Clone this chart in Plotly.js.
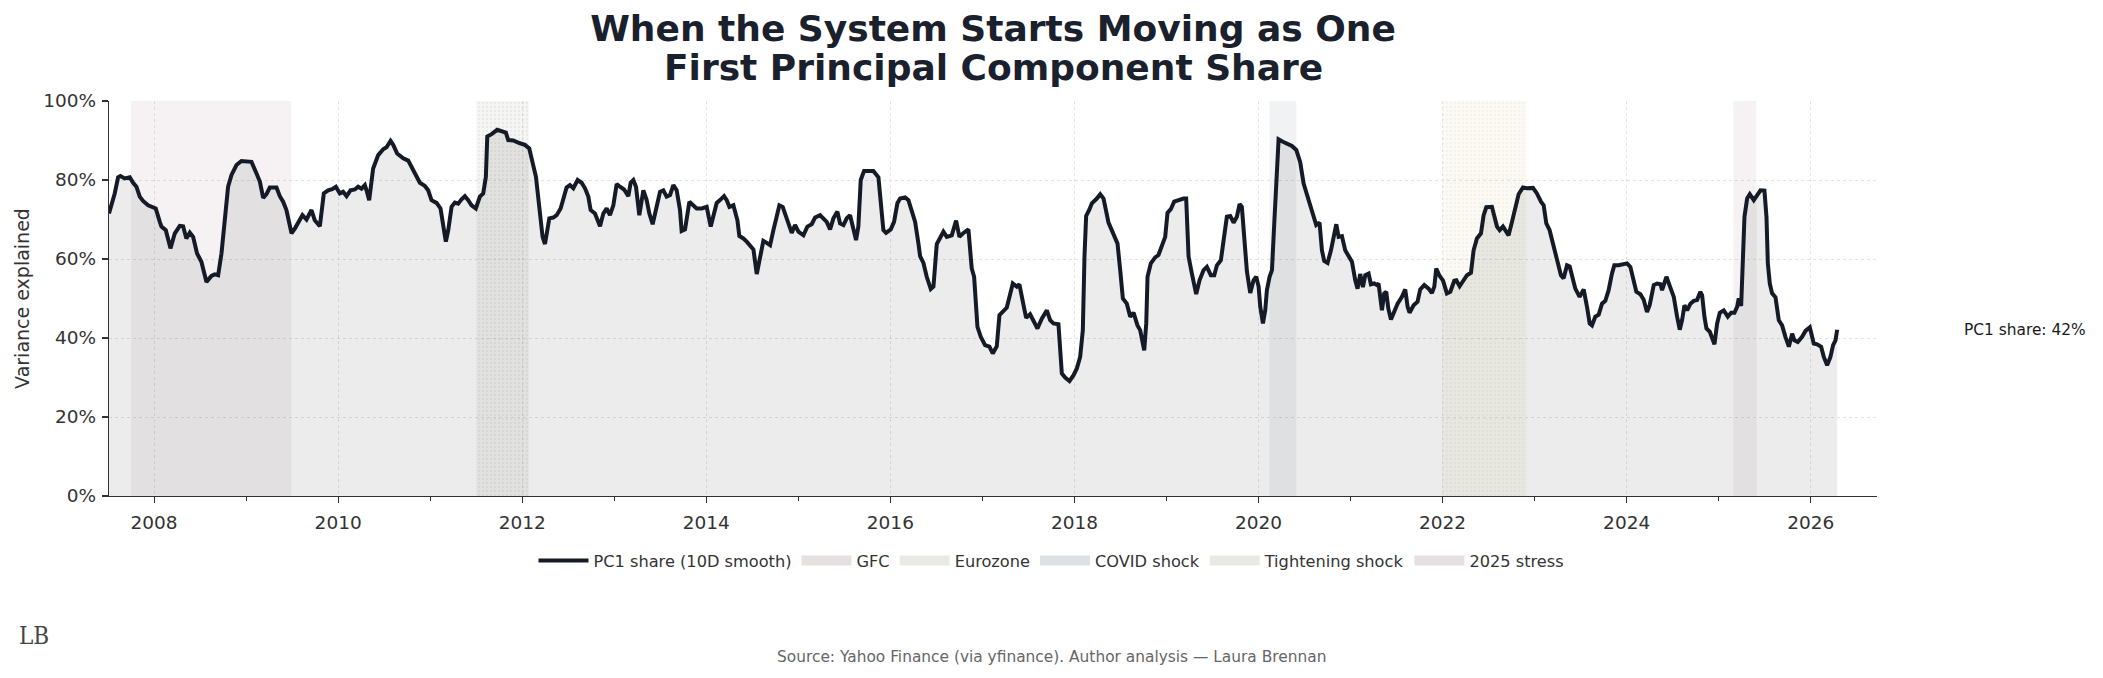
<!DOCTYPE html>
<html>
<head>
<meta charset="utf-8">
<script src="https://cdn.plot.ly/plotly-3.0.1.min.js"></script>
<style>html,body{margin:0;padding:0;background:#fff;}#chart{width:2103px;height:678px;}</style>
</head>
<body>
<div id="chart"></div>
<script>
// ---- data (decimal years, % of variance explained by PC1) ----
const dates = [
2007.51,2007.554,2007.572,2007.609,2007.634,2007.681,2007.736,2007.772,2007.808,2007.844,
2007.880,2007.935,2007.989,2008.018,2008.062,2008.080,2008.127,2008.178,2008.225,2008.279,
2008.315,2008.351,2008.388,2008.424,2008.467,2008.514,2008.569,2008.623,2008.659,2008.696,
2008.732,2008.768,2008.804,2008.841,2008.895,2008.949,2009.022,2009.058,2009.112,2009.149,
2009.185,2009.221,2009.257,2009.330,2009.366,2009.402,2009.438,2009.467,2009.493,2009.529,
2009.576,2009.612,2009.656,2009.710,2009.746,2009.801,2009.844,2009.891,2009.935,2009.975,
2010.018,2010.054,2010.091,2010.134,2010.181,2010.217,2010.254,2010.290,2010.308,2010.337,
2010.380,2010.435,2010.489,2010.525,2010.569,2010.598,2010.641,2010.707,2010.761,2010.815,
2010.851,2010.888,2010.942,2010.978,2011.014,2011.069,2011.112,2011.141,2011.170,2011.196,
2011.232,2011.268,2011.304,2011.341,2011.377,2011.413,2011.449,2011.496,2011.540,2011.576,
2011.605,2011.620,2011.667,2011.728,2011.775,2011.822,2011.848,2011.902,2011.975,
2012.029,2012.076,2012.102,2012.149,2012.185,2012.221,2012.247,2012.272,2012.294,2012.337,
2012.374,2012.417,2012.446,2012.482,2012.518,2012.555,2012.602,2012.645,2012.682,2012.718,
2012.743,2012.790,2012.845,2012.881,2012.917,2012.953,2012.990,2013.026,2013.062,2013.106,
2013.153,2013.178,2013.207,2013.236,2013.272,2013.316,2013.352,2013.381,2013.417,2013.461,
2013.497,2013.533,2013.569,2013.606,2013.642,2013.678,2013.714,2013.732,2013.769,2013.816,
2013.852,2013.895,2013.950,2014.004,2014.048,2014.077,2014.113,2014.149,2014.193,2014.222,
2014.251,2014.294,2014.338,2014.359,2014.403,2014.439,2014.468,2014.512,2014.548,2014.584,
2014.620,2014.657,2014.693,2014.729,2014.765,2014.794,2014.830,2014.856,2014.892,2014.928,
2014.964,2015.001,2015.055,2015.098,2015.145,2015.182,2015.236,2015.272,2015.308,2015.345,
2015.381,2015.424,2015.453,2015.490,2015.526,2015.562,2015.591,2015.627,2015.652,2015.678,
2015.714,2015.761,2015.815,2015.870,2015.895,2015.924,2015.953,2016.004,2016.040,2016.076,
2016.106,2016.160,2016.196,2016.232,2016.269,2016.305,2016.323,2016.359,2016.395,2016.439,
2016.468,2016.504,2016.540,2016.576,2016.613,2016.667,2016.714,2016.750,2016.794,2016.848,
2016.884,2016.910,2016.946,2016.982,2017.029,2017.076,2017.112,2017.156,2017.185,2017.228,
2017.265,2017.301,2017.330,2017.373,2017.402,2017.439,2017.475,2017.518,2017.555,2017.598,
2017.645,2017.700,2017.736,2017.772,2017.826,2017.863,2017.899,2017.946,2017.990,2018.026,
2018.062,2018.091,2018.109,2018.127,2018.164,2018.189,2018.243,2018.280,2018.316,2018.345,
2018.370,2018.424,2018.468,2018.497,2018.526,2018.569,2018.606,2018.642,2018.685,2018.714,
2018.758,2018.780,2018.794,2018.830,2018.877,2018.913,2018.950,2018.986,2019.011,2019.047,
2019.083,2019.131,2019.185,2019.214,2019.240,2019.276,2019.323,2019.359,2019.403,2019.439,
2019.482,2019.519,2019.548,2019.591,2019.627,2019.656,2019.693,2019.729,2019.765,2019.794,
2019.819,2019.845,2019.874,2019.910,2019.946,2019.975,2020.001,2020.019,2020.048,2020.073,
2020.091,2020.120,2020.146,2020.171,2020.200,2020.218,2020.265,2020.309,2020.363,2020.410,
2020.453,2020.490,2020.526,2020.562,2020.598,2020.627,2020.663,2020.689,2020.714,2020.750,
2020.787,2020.815,2020.845,2020.870,2020.906,2020.942,2020.978,2021.015,2021.051,2021.076,
2021.105,2021.134,2021.160,2021.196,2021.221,2021.257,2021.286,2021.304,2021.341,2021.366,
2021.388,2021.410,2021.439,2021.475,2021.511,2021.558,2021.594,2021.620,2021.641,2021.685,
2021.728,2021.757,2021.801,2021.848,2021.884,2021.910,2021.931,2021.968,2022.004,2022.047,
2022.084,2022.127,2022.149,2022.185,2022.228,2022.265,2022.308,2022.337,2022.373,2022.417,
2022.446,2022.475,2022.536,2022.562,2022.591,2022.620,2022.656,2022.681,2022.717,2022.754,
2022.790,2022.826,2022.873,2022.917,2022.982,2023.025,2023.069,2023.098,2023.127,2023.163,
2023.199,2023.225,2023.261,2023.286,2023.315,2023.352,2023.381,2023.406,2023.442,2023.489,
2023.533,2023.569,2023.598,2023.623,2023.659,2023.696,2023.732,2023.768,2023.804,2023.840,
2023.866,2023.913,2023.949,2024.004,2024.040,2024.076,2024.105,2024.149,2024.185,2024.221,
2024.250,2024.294,2024.330,2024.367,2024.385,2024.432,2024.468,2024.512,2024.548,2024.577,
2024.602,2024.628,2024.657,2024.693,2024.729,2024.765,2024.801,2024.820,2024.845,2024.867,
2024.903,2024.928,2024.954,2024.983,2025.012,2025.055,2025.099,2025.135,2025.171,2025.200,
2025.218,2025.244,2025.265,2025.280,2025.309,2025.338,2025.381,2025.417,2025.454,2025.497,
2025.519,2025.534,2025.555,2025.580,2025.617,2025.653,2025.689,2025.725,2025.762,2025.798,
2025.823,2025.859,2025.906,2025.943,2025.990,2026.033,2026.070,2026.113,2026.142,2026.178,
2026.214,2026.243,2026.269,2026.287
];
const pc1Share = [
71.5,75,76.6,80.7,81,80.4,80.7,79.3,78.3,75.8,
74.7,73.6,73,72.8,69.4,68.2,67.3,62.7,66.5,68.4,
68.3,65.2,66.7,65.6,61.4,59.3,54.2,55.7,56.1,55.9,
61.4,69,78.3,81.3,83.8,84.8,84.8,84.6,81.7,79.6,
75.5,76.4,78.1,78.1,75.9,74.5,72.4,69.4,66.5,67.7,
69.7,71.1,70,72.4,69.8,68.3,76.6,77.4,77.7,78.3,
76.6,77,75.9,77.4,77.6,78.3,77.8,78.7,77.4,74.9,
82.9,86.3,87.8,88.3,89.9,88.9,86.7,85.5,84.9,82.5,
81.3,79.3,78.5,77.4,74.9,74.2,72.8,69,64.4,67.3,
73.2,74.3,74,75.1,75.9,74.9,73.6,72.8,75.8,76.6,
80.8,91,91.6,92.7,92.3,92,90.1,90,89.3,
88.9,88,85.5,80.8,73.2,65.6,63.8,67.3,70.3,70.5,
71.1,72.8,75.6,78.1,78.7,77.9,80,79.3,77.9,75.8,
72.4,71.5,68.3,71.5,72.8,71.1,73.6,79,78.3,77.6,
75.9,79.3,80,78.3,71.1,77.4,74.9,71.5,68.8,73.2,
77,77.4,75.8,76.2,78.7,77.4,72.4,67.1,67.5,74.5,
73.6,72.8,72.8,73.2,68.2,71.1,74.2,74.9,75.9,74.9,
73.2,73.6,69.8,65.8,65.2,64.4,63.5,62.4,56.2,60.6,
64.6,64.1,63.5,67.3,71.1,73.6,73.2,71.5,69.4,66.6,
68.6,66.9,66,68.2,68.8,70.5,71.1,70.3,69.4,67.5,
70.3,72,69,68.6,70.3,71.1,68.6,64.8,68.2,80,
82.3,82.4,82.3,80.7,74.9,67.3,66.6,67.5,69.4,74.1,
75.3,75.6,74.9,72.4,69.4,63.9,60.7,59,55.5,52.4,
53,63.8,65.6,66.9,65.6,66,69.7,65.6,66.6,67.5,
57.6,55.5,42.8,40.3,38.2,37.8,36.1,37.9,45.8,47,
47.7,51.1,53.8,53,53.6,49.2,45.1,46,44.5,42.4,
44.9,47,44.5,43.7,43.5,31,30,29.1,30.6,32.3,
35.2,42,60.6,70.9,72.6,74.1,75.3,76.4,75.3,72.4,
69.2,66.3,63.9,57.2,50,48.7,45.4,46.4,43.2,42,
36.9,43.7,55.5,58.9,60.4,61,63.1,65.6,71.7,72.6,
74.5,74.9,75.3,75.3,60.6,56.3,51.1,54.6,57.2,58,
55.9,55.9,58.4,59.7,65.6,70.7,70.9,69.2,70.7,73.9,
73.2,65.6,56.8,51.4,54.6,55.5,53,47.9,43.7,47,
52.1,55.5,57.2,69,85.9,90.3,89.7,89.3,88.6,87.6,
84.5,79.1,76.4,74.1,71.5,68.6,69.2,62.2,59.5,59,
62.2,65.6,68.8,65.6,65.8,62.2,60.6,59.3,54.6,52.5,
56.2,52.9,55.9,56.3,53.6,53.8,53.4,53.8,47,51.3,
51.7,47.5,44.7,47,48.7,50.4,52.3,47.9,46.4,48.3,
49.2,52.3,53.4,52.5,51.4,53,57.6,55.7,54.6,51.3,
51.7,54.5,54.6,53.1,54.6,55.9,56.5,62.2,65.2,66.5,
71.1,73.1,73.2,71.1,68.2,67.3,68.2,67.3,66,69.4,
73.2,76.4,78.1,77.9,78,76.6,74.5,73.6,69,67.3,
63.9,61.4,58.9,55.9,55.1,58.4,58.1,55.5,52.5,50.4,
52.3,47.9,43.7,43.2,45.4,45.9,48.7,49.4,52.1,56.3,
58.4,58.4,58.7,58.9,58,54.6,51.7,51.1,49.7,46.6,
48.3,53.4,53.8,53.6,52.1,55.5,53.4,50.4,45.4,42.1,
44.5,48.3,47,48.7,49.4,49.6,51.7,50.8,45.4,42.4,
41.6,39.9,38.4,43.7,46.4,47,45.4,46.4,46.4,47.9,
50,48.1,58.9,70.7,75.3,76.4,74.9,76.2,77.4,77.3,
70.7,58.9,53.8,51.3,50.3,44.5,43.2,40.3,37.8,41.1,
39.4,39,40.3,41.8,42.7,38.6,38.4,37.8,35.2,33.1,
35.2,38.2,39.4,42.1
];

const regionNames = ['GFC', 'Eurozone', 'COVID shock', 'Tightening shock', '2025 stress'];
const regionStart = [2007.75, 2011.50, 2020.12, 2022.00, 2025.16];
const regionEnd   = [2009.49, 2012.07, 2020.41, 2022.91, 2025.41];

const xTickVals = [2008, 2010, 2012, 2014, 2016, 2018, 2020, 2022, 2024, 2026];
const yTickVals = [0, 20, 40, 60, 80, 100];
const yTickText = yTickVals.map(v => v + '%');

// ---- styling ----
const FONT = 'DejaVu Sans, Verdana, sans-serif';
const regionFill   = ['rgba(165,125,135,0.10)', 'rgba(160,155,135,0.09)', 'rgba(115,125,145,0.10)', 'rgba(225,195,135,0.09)', 'rgba(165,125,140,0.10)'];
const regionLegend = ['#e6e0e1', '#e9e9e6', '#dee1e4', '#e9e9e4', '#e6e0e2'];
const regionDots   = [false, true, false, true, false];
const dotColor     = ['', 'rgba(120,120,110,0.10)', '', 'rgba(190,180,150,0.10)', ''];

const yMin = yTickVals[0], yMax = yTickVals[yTickVals.length - 1];
const traces = [];
regionNames.forEach((nm, i) => {
  const t = {
    type: 'scatter', mode: 'lines',
    x: [regionStart[i], regionStart[i], regionEnd[i], regionEnd[i]],
    y: [yMin, yMax, yMax, yMin],
    fill: 'toself', fillcolor: regionFill[i],
    line: {width: 0, color: 'rgba(0,0,0,0)'},
    hoverinfo: 'skip', showlegend: false, name: nm
  };
  if (regionDots[i]) t.fillpattern = {shape: '.', fgcolor: dotColor[i], bgcolor: regionFill[i], size: 4, solidity: 0.3};
  traces.push(t);
});

// shaded area under the series
traces.push({
  type: 'scatter', mode: 'lines', x: dates, y: pc1Share,
  line: {width: 0, color: 'rgba(0,0,0,0)'},
  fill: 'tozeroy', fillcolor: 'rgba(30,40,30,0.09)',
  showlegend: false, hoverinfo: 'skip', name: 'area'
});
// the line itself
traces.push({
  type: 'scatter', mode: 'lines', x: dates, y: pc1Share,
  name: 'PC1 share (10D smooth)',
  line: {color: '#141b27', width: 4},
  legendrank: 1
});

// legend swatches for the shaded periods
regionNames.forEach((nm, i) => {
  traces.push({
    type: 'scatter', mode: 'lines', x: [null], y: [null],
    name: nm,
    line: {width: 13, color: regionLegend[i]},
    legendrank: 2 + i, hoverinfo: 'skip'
  });
});

const W = 2103, H = 678;
const M = {l: 109, r: 226, t: 101, b: 182};
const plotH = H - M.t - M.b;
const plotW = W - M.l - M.r;
const py = (pix) => (H - M.b - pix) / plotH;      // pixel row -> paper y
const px = (pix) => (pix - M.l) / plotW;          // pixel col -> paper x

const lastVal = pc1Share[pc1Share.length - 1];

const layout = {
  width: W, height: H,
  margin: M,
  paper_bgcolor: '#ffffff', plot_bgcolor: '#ffffff',
  font: {family: FONT, color: '#333333'},
  title: {
    text: '<b>When the System Starts Moving as One</b>',
    font: {family: FONT, size: 36, color: '#1a202c'},
    x: px((M.l + W - M.r) / 2), xref: 'paper', xanchor: 'center',
    y: 1 - 28 / H, yref: 'container', yanchor: 'middle'
  },
  xaxis: {
    range: [2007.51, 2026.72],
    tickmode: 'array', tickvals: xTickVals, tickformat: 'd',
    ticks: 'outside', ticklen: 6, tickwidth: 1.2, tickcolor: '#333333',
    ticklabelstandoff: 4,
    showline: true, linecolor: '#333333', linewidth: 1.2,
    showgrid: true, gridcolor: '#e4e4e4', griddash: 'dot', gridwidth: 1,
    zeroline: false,
    tickfont: {family: FONT, size: 18.5, color: '#333333'},
    minor: {dtick: 1, tick0: 2007, ticks: 'outside', ticklen: 3.5, tickcolor: '#333333', tickwidth: 1, showgrid: false}
  },
  yaxis: {
    range: [yMin, yMax],
    tickmode: 'array', tickvals: yTickVals, ticktext: yTickText,
    ticks: 'outside', ticklen: 6, tickwidth: 1.2, tickcolor: '#333333',
    ticklabelstandoff: 2,
    showline: true, linecolor: '#333333', linewidth: 1.2,
    showgrid: true, gridcolor: '#e4e4e4', griddash: 'dot', gridwidth: 1,
    zeroline: false,
    tickfont: {family: FONT, size: 18.5, color: '#333333'},
    title: {text: 'Variance explained', font: {family: FONT, size: 19, color: '#333333'}, standoff: 8}
  },
  showlegend: true,
  legend: {
    orientation: 'h', x: px(W / 2), xanchor: 'center', y: py(561), yanchor: 'middle',
    font: {family: FONT, size: 16.2, color: '#333333'}, bgcolor: 'rgba(0,0,0,0)',
    traceorder: 'normal', itemwidth: 50
  },
  annotations: [
    {text: '<b>First Principal Component Share</b>', xref: 'paper', yref: 'paper',
     x: px((M.l + W - M.r) / 2), y: py(67), xanchor: 'center', yanchor: 'middle', showarrow: false,
     font: {family: FONT, size: 36, color: '#1a202c'}},
    {text: 'PC1 share: ' + Math.round(lastVal) + '%', xref: 'paper', yref: 'y',
     x: px(1962), y: lastVal, xanchor: 'left', yanchor: 'middle', showarrow: false,
     font: {family: FONT, size: 15.4, color: '#1a1a1a'}},
    {text: 'Source: Yahoo Finance (via yfinance). Author analysis — Laura Brennan', xref: 'paper', yref: 'paper',
     x: px(W / 2), y: py(657), xanchor: 'center', yanchor: 'middle', showarrow: false,
     font: {family: FONT, size: 15.4, color: '#666666'}},
    {text: 'LB', xref: 'paper', yref: 'paper', x: px(34), y: py(636), xanchor: 'center', yanchor: 'middle', showarrow: false,
     font: {family: 'DejaVu Serif Condensed, Liberation Serif, serif', size: 24, color: '#444444'}}
  ]
};

Plotly.newPlot('chart', traces, layout, {staticPlot: true, displayModeBar: false});
</script>
</body>
</html>
